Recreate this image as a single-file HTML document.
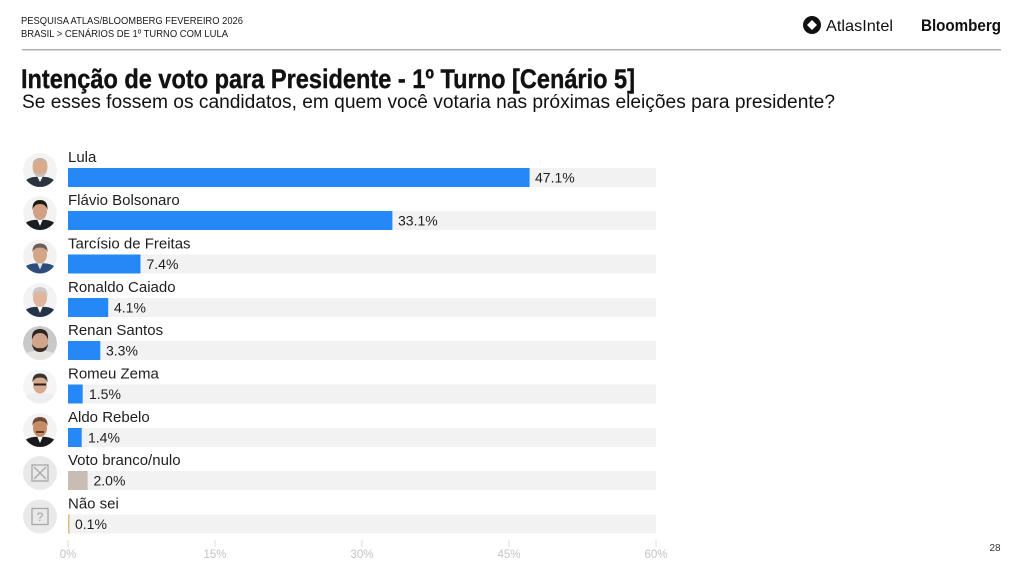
<!DOCTYPE html>
<html><head><meta charset="utf-8"><style>
html,body{margin:0;padding:0;background:#fff;}
svg{display:block;}
text{font-family:"Liberation Sans",sans-serif;}
</style></head><body>
<svg width="1024" height="576" viewBox="0 0 1024 576" xmlns="http://www.w3.org/2000/svg">
<defs><clipPath id="c"><circle cx="0" cy="0" r="17"/></clipPath></defs>
<rect width="1024" height="576" fill="#fff"/>
<!-- header -->
<text x="21" y="24" font-size="10.5" fill="#1a1a1a" textLength="222" lengthAdjust="spacingAndGlyphs">PESQUISA ATLAS/BLOOMBERG FEVEREIRO 2026</text>
<text x="21" y="37" font-size="10.5" fill="#1a1a1a" textLength="207" lengthAdjust="spacingAndGlyphs">BRASIL &gt; CENÁRIOS DE 1º TURNO COM LULA</text>
<!-- Atlas logo -->
<g transform="translate(812,25)">
<path d="M0,-9 C5,-9 9,-5 9,0 C9,5 5,9 0,9 C-5,9 -9,5 -9,0 C-9,-5 -5,-9 0,-9Z" fill="#111"/>
<path d="M0,-5 L5,0 L0,5 L-5,0Z" fill="#fff"/>
</g>
<text x="826" y="31" font-size="16" fill="#111" textLength="67" lengthAdjust="spacingAndGlyphs">AtlasIntel</text>
<text x="921" y="31" font-size="17" font-weight="bold" fill="#111" textLength="80" lengthAdjust="spacingAndGlyphs">Bloomberg</text>
<rect x="22" y="49" width="979" height="1.5" fill="#b0b0b0"/>
<!-- title -->
<text x="21" y="88" font-size="27" font-weight="bold" fill="#111" stroke="#111" stroke-width="0.4" textLength="614" lengthAdjust="spacingAndGlyphs">Intenção de voto para Presidente - 1º Turno [Cenário 5]</text>
<text x="22" y="108" font-size="19" fill="#111" textLength="813" lengthAdjust="spacingAndGlyphs">Se esses fossem os candidatos, em quem você votaria nas próximas eleições para presidente?</text>

<!-- tracks -->
<g fill="#f2f2f2">
<rect x="68" y="168" width="588" height="19"/>
<rect x="68" y="211" width="588" height="19"/>
<rect x="68" y="254.5" width="588" height="19"/>
<rect x="68" y="298" width="588" height="19"/>
<rect x="68" y="341" width="588" height="19"/>
<rect x="68" y="384.5" width="588" height="19"/>
<rect x="68" y="428" width="588" height="19"/>
<rect x="68" y="471" width="588" height="19"/>
<rect x="68" y="514.5" width="588" height="19"/>
</g>
<!-- bars -->
<g fill="#2489f6">
<rect x="68" y="168" width="461.6" height="19"/>
<rect x="68" y="211" width="324.4" height="19"/>
<rect x="68" y="254.5" width="72.5" height="19"/>
<rect x="68" y="298" width="40.2" height="19"/>
<rect x="68" y="341" width="32.3" height="19"/>
<rect x="68" y="384.5" width="14.7" height="19"/>
<rect x="68" y="428" width="13.7" height="19"/>
</g>
<rect x="68" y="471" width="19.6" height="19" fill="#c8bcb3"/>
<rect x="68" y="514.5" width="1.5" height="19" fill="#d9bd82"/>

<!-- names -->
<g font-size="15" fill="#1e1e1e">
<text x="68" y="162">Lula</text>
<text x="68" y="205">Flávio Bolsonaro</text>
<text x="68" y="248.5">Tarcísio de Freitas</text>
<text x="68" y="292">Ronaldo Caiado</text>
<text x="68" y="335">Renan Santos</text>
<text x="68" y="378.5">Romeu Zema</text>
<text x="68" y="422">Aldo Rebelo</text>
<text x="68" y="465">Voto branco/nulo</text>
<text x="68" y="508.5">Não sei</text>
</g>
<!-- values -->
<g font-size="14" fill="#1e1e1e">
<text x="535" y="182.5">47.1%</text>
<text x="398" y="225.5">33.1%</text>
<text x="146.5" y="269">7.4%</text>
<text x="114" y="312.5">4.1%</text>
<text x="106" y="355.5">3.3%</text>
<text x="89" y="399">1.5%</text>
<text x="88" y="442.5">1.4%</text>
<text x="93.5" y="485.5">2.0%</text>
<text x="75" y="529">0.1%</text>
</g>

<!-- axis -->
<g stroke="#dcdcdc" stroke-width="1">
<line x1="68" y1="540" x2="68" y2="547"/>
<line x1="215" y1="540" x2="215" y2="547"/>
<line x1="362" y1="540" x2="362" y2="547"/>
<line x1="509" y1="540" x2="509" y2="547"/>
<line x1="656" y1="540" x2="656" y2="547"/>
</g>
<g font-size="11.5" fill="#c4c4c4" text-anchor="middle">
<text x="68" y="558">0%</text>
<text x="215" y="558">15%</text>
<text x="362" y="558">30%</text>
<text x="509" y="558">45%</text>
<text x="656" y="558">60%</text>
</g>
<text x="995" y="551" font-size="10" fill="#333" text-anchor="middle">28</text>

<!-- photos -->
<g transform="translate(40,170)"><g clip-path="url(#c)">
<circle r="17" fill="#f3f3f3"/>
<path d="M-17,17 L-14,10 Q-8,6 0,7 Q8,6 14,10 L17,17Z" fill="#2c3440"/>
<path d="M-3,6 L0,12 L3,6Z" fill="#fff"/>
<ellipse cx="0" cy="-3" rx="7.5" ry="9" fill="#d9ab8e"/>
<path d="M-7.5,-6 Q0,-15 7.5,-6 Q6,-12 0,-12 Q-6,-12 -7.5,-6Z" fill="#b8b0aa"/>
<path d="M-7,0 Q-6,7 0,7 Q6,7 7,0 Q5,4 0,4 Q-5,4 -7,0Z" fill="#c8c0bb"/>
</g></g>
<g transform="translate(40,213)"><g clip-path="url(#c)">
<circle r="17" fill="#f3f3f3"/>
<path d="M-17,17 L-15,10 Q-8,6 0,7 Q8,6 15,10 L17,17Z" fill="#1b1e24"/>
<path d="M-3,6 L0,13 L3,6Z" fill="#fff"/>
<ellipse cx="0" cy="-2" rx="7" ry="9" fill="#d2a083"/>
<path d="M-7.5,-3 Q-8,-13 0,-13 Q8,-13 7.5,-3 Q6,-9 0,-9 Q-6,-9 -7.5,-3Z" fill="#1e1a18"/>
</g></g>
<g transform="translate(40,256.5)"><g clip-path="url(#c)">
<circle r="17" fill="#f3f3f3"/>
<path d="M-17,17 L-15,10 Q-8,6 0,7 Q8,6 15,10 L17,17Z" fill="#2d4e7a"/>
<path d="M-3,6 L0,13 L3,6Z" fill="#dfe8f2"/>
<ellipse cx="0" cy="-2" rx="7" ry="9" fill="#d5a685"/>
<path d="M-7.5,-4 Q-8,-13 0,-13 Q8,-13 7.5,-4 Q6,-9 0,-9 Q-6,-9 -7.5,-4Z" fill="#6c6058"/>
</g></g>
<g transform="translate(40,300)"><g clip-path="url(#c)">
<circle r="17" fill="#f3f3f3"/>
<path d="M-17,17 L-15,10 Q-8,6 0,7 Q8,6 15,10 L17,17Z" fill="#26324a"/>
<path d="M-3,6 L0,13 L3,6Z" fill="#fff"/>
<ellipse cx="0" cy="-2" rx="7" ry="9" fill="#e0b79e"/>
<path d="M-7.5,-3 Q-8,-13 0,-13 Q8,-13 7.5,-3 Q6,-9 0,-9 Q-6,-9 -7.5,-3Z" fill="#c9c9cb"/>
</g></g>
<g transform="translate(40,343)"><g clip-path="url(#c)">
<circle r="17" fill="#c9c9c9"/>
<path d="M-17,17 L-15,11 Q-8,7 0,8 Q8,7 15,11 L17,17Z" fill="#e6e4e0"/>
<ellipse cx="0" cy="-1" rx="8" ry="10" fill="#d0a48a"/>
<path d="M-8,-3 Q-9,-14 0,-14 Q9,-14 8,-3 Q6,-10 0,-10 Q-6,-10 -8,-3Z" fill="#2e2622"/>
<path d="M-8,1 Q-7,9 0,9 Q7,9 8,1 Q5,6 0,5 Q-5,6 -8,1Z" fill="#3a2e28"/>
</g></g>
<g transform="translate(40,386.5)"><g clip-path="url(#c)">
<circle r="17" fill="#f5f5f5"/>
<path d="M-17,17 L-15,10 Q-8,6 0,7 Q8,6 15,10 L17,17Z" fill="#eeeeee"/>
<ellipse cx="0" cy="-2" rx="7" ry="9" fill="#d8a98c"/>
<path d="M-7.5,-4 Q-8,-13 0,-13 Q8,-13 7.5,-4 Q6,-9 0,-9 Q-6,-9 -7.5,-4Z" fill="#3a3430"/>
<rect x="-6" y="-3" width="12" height="2" fill="#222"/>
</g></g>
<g transform="translate(40,430)"><g clip-path="url(#c)">
<circle r="17" fill="#f3f3f3"/>
<path d="M-17,17 L-15,10 Q-8,6 0,7 Q8,6 15,10 L17,17Z" fill="#1a1a1c"/>
<path d="M-3,6 L0,13 L3,6Z" fill="#fff"/>
<ellipse cx="0" cy="-2" rx="7" ry="9" fill="#c78d68"/>
<path d="M-7.5,-4 Q-8,-13 0,-13 Q8,-13 7.5,-4 Q6,-9 0,-9 Q-6,-9 -7.5,-4Z" fill="#6e4a34"/>
<rect x="-4" y="1" width="8" height="2" fill="#5a3a2a"/>
</g></g>
<g transform="translate(40,473)">
<circle r="17" fill="#e9e9e9"/>
<rect x="-8" y="-8" width="16" height="16" fill="none" stroke="#a8a8a8" stroke-width="1.3"/>
<line x1="-6" y1="-6" x2="6" y2="6" stroke="#a8a8a8" stroke-width="1.3"/>
<line x1="6" y1="-6" x2="-6" y2="6" stroke="#a8a8a8" stroke-width="1.3"/>
</g>
<g transform="translate(40,516.5)">
<circle r="17" fill="#e9e9e9"/>
<rect x="-8" y="-8" width="16" height="16" fill="none" stroke="#a8a8a8" stroke-width="1.3"/>
<text x="0" y="4.5" font-size="12" fill="#a0a0a0" text-anchor="middle">?</text>
</g>
</svg>
</body></html>
